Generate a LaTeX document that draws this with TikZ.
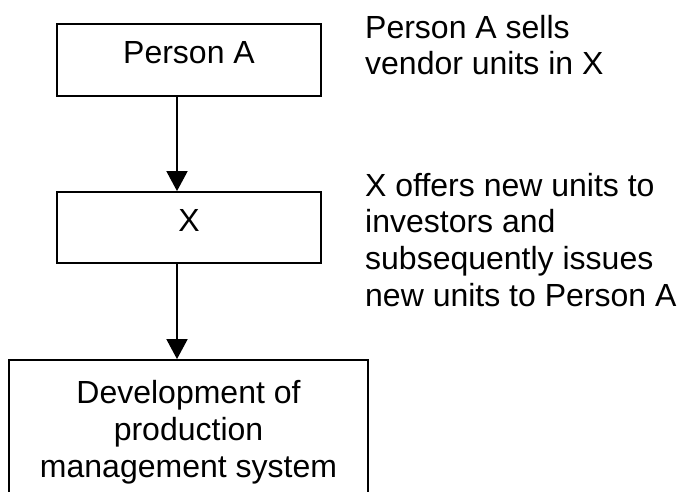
\documentclass[tikz,border=0pt]{standalone}
\usepackage{fontspec}
\setmainfont{Liberation Sans}
\usetikzlibrary{arrows.meta}
\tikzset{
  big/.style={font=\fontsize{32}{36.8}\selectfont},
  box/.style={draw, line width=1.8pt, big, inner sep=0pt, align=center},
  onebox/.style={box, minimum width=264pt, text height=23pt, text depth=15.5pt},
  note/.style={big, inner sep=0pt, align=left, anchor=north west},
  flow/.style={line width=1.8pt, -{Triangle[width=21pt,length=20pt]}}
}
\begin{document}
\begin{tikzpicture}[x=1pt,y=-1pt]
\useasboundingbox (0,0) rectangle (680,492);
\clip (0,0) rectangle (680,492);
\node[onebox, minimum height=72pt] (pa) at (189,60) {Person A};
\node[onebox, minimum height=71pt] (x) at (189,227.5) {X};
\node[box, minimum width=359pt, minimum height=145pt] (dev) at (188.5,432.5)
  {Development of\\production\\management system};
\draw[flow] (pa.south -| 177,0) -- (x.north -| 177,0);
\draw[flow] (x.south -| 177,0) -- (dev.north -| 177,0);
\node[note] (n1) at (365,14.7) {Person A sells\\vendor units in X};
\node[note] (n2) at (365,172.7) {X offers new units to\\investors and\\subsequently issues\\new units to Person A};
\end{tikzpicture}
\end{document}
